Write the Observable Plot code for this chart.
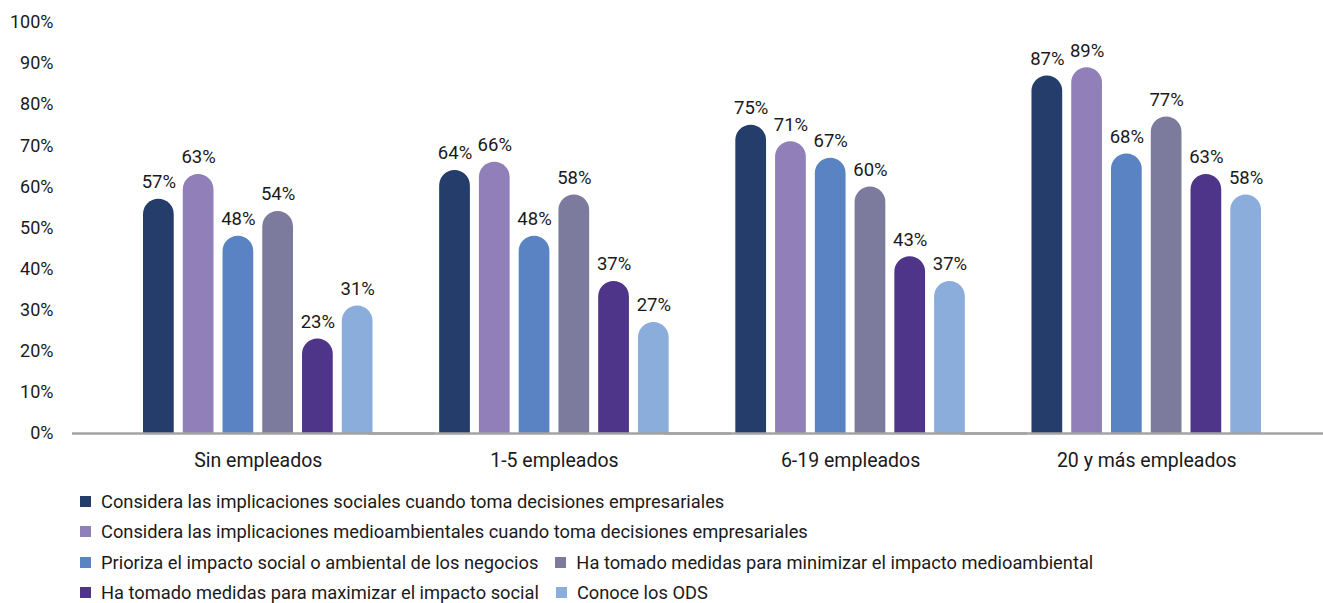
<!DOCTYPE html>
<html>
<head>
<meta charset="utf-8">
<script src="https://cdn.jsdelivr.net/npm/d3@7"></script>
<script src="https://cdn.jsdelivr.net/npm/@observablehq/plot@0.6"></script>
<style>
  html, body { margin: 0; padding: 0; background: #fff; }
  body { font-family: Roboto, "Liberation Sans", sans-serif; color: #1a1a1a; }
  #legend { display: flex; flex-wrap: wrap; width: 1060px; margin-left: 80px; margin-top: 8px; row-gap: 0; }
  .item { display: flex; align-items: center; height: 30.5px; font-size: 18.3px; margin-right: 17px; white-space: nowrap; }
  .sw { width: 11px; height: 11px; margin-right: 10px; flex: none; }
</style>
</head>
<body>
<div id="chart"></div>
<div id="legend"></div>
<script>
const groups = ["Sin empleados", "1-5 empleados", "6-19 empleados", "20 y más empleados"];
const series = [
  "Considera las implicaciones sociales cuando toma decisiones empresariales",
  "Considera las implicaciones medioambientales cuando toma decisiones empresariales",
  "Prioriza el impacto social o ambiental de los negocios",
  "Ha tomado medidas para minimizar el impacto medioambiental",
  "Ha tomado medidas para maximizar el impacto social",
  "Conoce los ODS"
];
const colors = ["#253D6A", "#917FB9", "#5983C2", "#7C7B9E", "#4F358A", "#8BADDC"];
// values (%) per series, in group order
const sociales       = [57, 64, 75, 87];
const medioambiental = [63, 66, 71, 89];
const prioriza       = [48, 48, 67, 68];
const minimizar      = [54, 58, 60, 77];
const maximizar      = [23, 37, 43, 63];
const ods            = [31, 27, 37, 58];
const yTicks = [0, 10, 20, 30, 40, 50, 60, 70, 80, 90, 100];

const seriesValues = [sociales, medioambiental, prioriza, minimizar, maximizar, ods];
const data = [];
groups.forEach((g, gi) => {
  series.forEach((s, si) => {
    data.push({group: g, series: s, value: seriesValues[si][gi]});
  });
});

const chart = Plot.plot({
  width: 1323,
  height: 478,
  marginLeft: 143,
  marginRight: 62,
  marginTop: 22,
  marginBottom: 45,
  style: {fontFamily: "Roboto, sans-serif", color: "#1a1a1a", background: "#fff"},
  fx: {domain: groups, paddingInner: 0.225, paddingOuter: 0, round: false, label: null},
  x: {domain: series, paddingInner: 0.227, paddingOuter: 0, round: false, axis: null},
  y: {domain: [0, 100], label: null},
  color: {domain: series, range: colors},
  marks: [
    Plot.axisY({ticks: yTicks, tickFormat: d => d + "%", tickSize: 0, tickPadding: 90, fontSize: 18, label: null}),
    Plot.axisFx({anchor: "bottom", tickSize: 0, tickPadding: 20, fontSize: 19.5, label: null}),
    Plot.barY(data, {fx: "group", x: "series", y: "value", fill: "series", ry1: 15.5}),
    Plot.text(data, {fx: "group", x: "series", y: "value", text: d => d.value + "%", dy: -17, fontSize: 18.5, fill: "#1a1a1a"}),
    Plot.ruleY([0], {stroke: "#a3a3a3", strokeWidth: 2.5, insetLeft: -71, insetRight: -62})
  ]
});
document.getElementById("chart").appendChild(chart);

const legend = document.getElementById("legend");
series.forEach((s, i) => {
  const it = document.createElement("div");
  it.className = "item";
  const sw = document.createElement("span");
  sw.className = "sw";
  sw.style.background = colors[i];
  const t = document.createElement("span");
  t.textContent = s;
  it.appendChild(sw);
  it.appendChild(t);
  legend.appendChild(it);
});
</script>
</body>
</html>
